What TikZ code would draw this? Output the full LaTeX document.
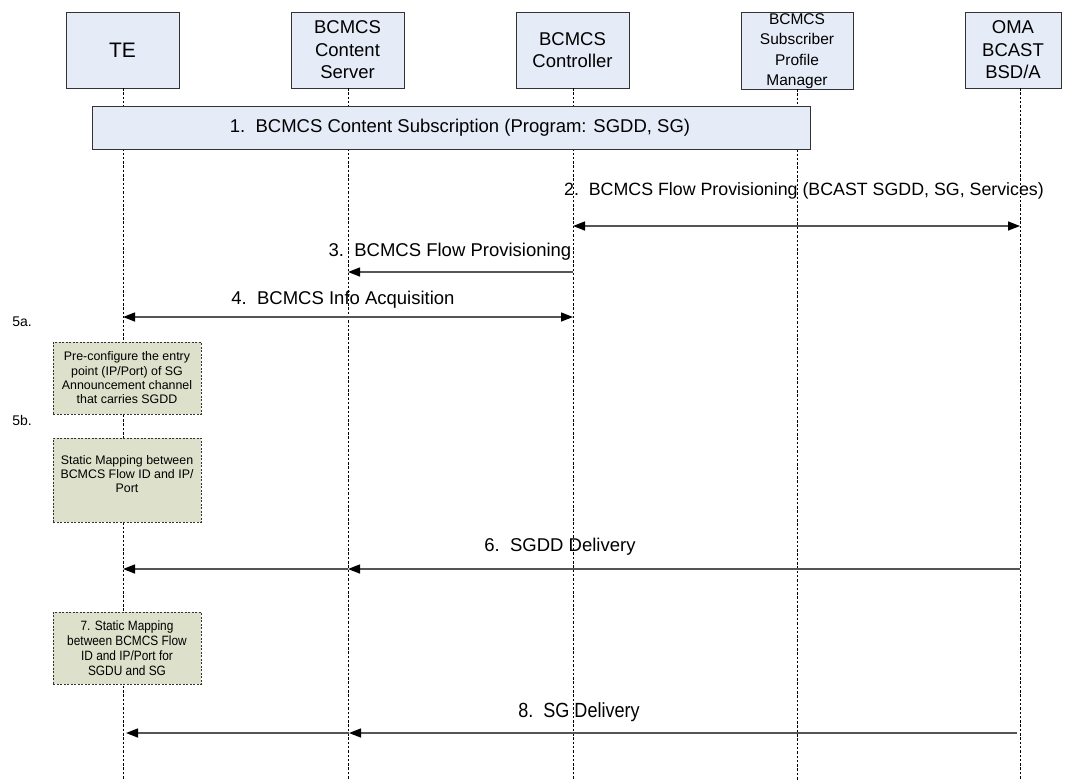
\documentclass[tikz,border=0pt]{standalone}
\usepackage{fontspec}
\setmainfont{Liberation Sans}
\newfontfamily\narrowfont[FakeStretch=0.88]{Liberation Sans}
\usetikzlibrary{arrows.meta}
\definecolor{hdrfill}{HTML}{E6ECF7}
\definecolor{notefill}{HTML}{DDE0CA}
\definecolor{msgline}{HTML}{555555}
\tikzset{
  hdr/.style={draw=black!80, fill=hdrfill, line width=0.8pt, minimum width=113pt, minimum height=76pt, align=center, inner sep=1pt, font=\fontsize{18.5}{22.5}\selectfont},
  lifeline/.style={draw=black, dashed, dash pattern=on 2.5pt off 1.8pt, line width=0.6pt},
  note/.style={draw=black!80, dashed, dash pattern=on 2pt off 1.5pt, fill=notefill, line width=0.7pt, minimum width=148pt, align=center, inner sep=1pt, font=\fontsize{12.4}{14.3}\selectfont},
  msg/.style={draw=msgline, line width=1.4pt, -{Triangle[length=12pt,width=9pt,color=black]}},
  dmsg/.style={draw=msgline, line width=1.4pt, {Triangle[length=12pt,width=9pt,color=black]}-{Triangle[length=12pt,width=9pt,color=black]}},
  lbl/.style={font=\fontsize{18.5}{22}\selectfont, inner sep=0pt},
  steplbl/.style={font=\fontsize{14}{16}\selectfont, inner sep=0pt}
}
\begin{document}
\begin{tikzpicture}[x=1pt,y=-1pt]
\useasboundingbox (0,0) rectangle (1065,780);
% header boxes
\node[hdr, font=\fontsize{21}{24}\selectfont] (te) at (122.5,50) {TE};
\node[hdr] (cs) at (347.5,50) {BCMCS\\Content\\Server};
\node[hdr] (ctl) at (572.5,50) {BCMCS\\Controller};
\node[hdr, minimum width=112pt, font=\fontsize{15.5}{20.5}\selectfont] (spm) at (797,51) {BCMCS\\Subscriber\\Profile\\Manager};
\node[hdr, minimum width=96pt] (oma) at (1013,50) {OMA\\BCAST\\BSD/A};
% lifeline ends
\coordinate (teT) at (123,88);   \coordinate (teB) at (123,780);
\coordinate (csT) at (348,88);   \coordinate (csB) at (348,780);
\coordinate (ctlT) at (573,88);  \coordinate (ctlB) at (573,780);
\coordinate (spmT) at (797,89);  \coordinate (spmB) at (797,780);
\coordinate (omaT) at (1020,88); \coordinate (omaB) at (1020,780);
\draw[lifeline] (teT) -- (teB);
\draw[lifeline] (csT) -- (csB);
\draw[lifeline] (ctlT) -- (ctlB);
\draw[lifeline] (spmT) -- (spmB);
\draw[lifeline] (omaT) -- (omaB);
% 1. subscription box
\node[hdr, minimum width=718pt, minimum height=43pt, font=\fontsize{18.5}{22}\selectfont] (sub) at (451,128) {\hspace*{18pt}1.\ \ BCMCS Content Subscription (Program: SGDD, SG)};
% 2.
\coordinate (ctl2) at (573,226); \coordinate (oma2) at (1020,226);
\draw[dmsg] (ctl2) -- (oma2);
\node[lbl, font=\fontsize{17.8}{21}\selectfont] (l2) at (804,191) {2.\ \ BCMCS Flow Provisioning (BCAST SGDD, SG, Services)};
% 3.
\coordinate (ctl3) at (573,272); \coordinate (cs3) at (348,272);
\draw[msg] (ctl3) -- (cs3);
\node[lbl] (l3) at (450,252) {3.\ \ BCMCS Flow Provisioning};
% 4.
\coordinate (te4) at (123,317); \coordinate (ctl4) at (573,317);
\draw[dmsg] (te4) -- (ctl4);
\node[lbl] (l4) at (343,300) {4.\ \ BCMCS Info Acquisition};
% 5a
\node[steplbl] (s5a) at (22,322) {5a.};
\node[note, minimum height=72pt] (n5a) at (127,378) {Pre-configure the entry\\point (IP/Port) of SG\\Announcement channel\\that carries SGDD};
% 5b
\node[steplbl] (s5b) at (22,420) {5b.};
\node[note, minimum height=84pt, text depth=12pt] (n5b) at (127,480) {Static Mapping between\\BCMCS Flow ID and IP/\\Port};
% 6.
\coordinate (oma6) at (1020,569); \coordinate (cs6) at (348,569); \coordinate (te6) at (123,569);
\draw[msg] (oma6) -- (cs6);
\draw[msg] (cs6) -- (te6);
\node[lbl] (l6) at (560,547) {6.\ \ SGDD Delivery};
% 7
\node[note, minimum height=72pt, font=\narrowfont\fontsize{13.5}{15}\selectfont] (n7) at (127,648) {7. Static Mapping\\between BCMCS Flow\\ID and IP/Port for\\SGDU and SG};
% 8.
\coordinate (oma8) at (1017,733); \coordinate (cs8) at (349,733); \coordinate (te8) at (126,733);
\draw[msg] (oma8) -- (cs8);
\draw[msg] (cs8) -- (te8);
\node[lbl, font=\narrowfont\fontsize{20.5}{24}\selectfont] (l8) at (579,712) {8.\ \ SG Delivery};
\end{tikzpicture}
\end{document}
